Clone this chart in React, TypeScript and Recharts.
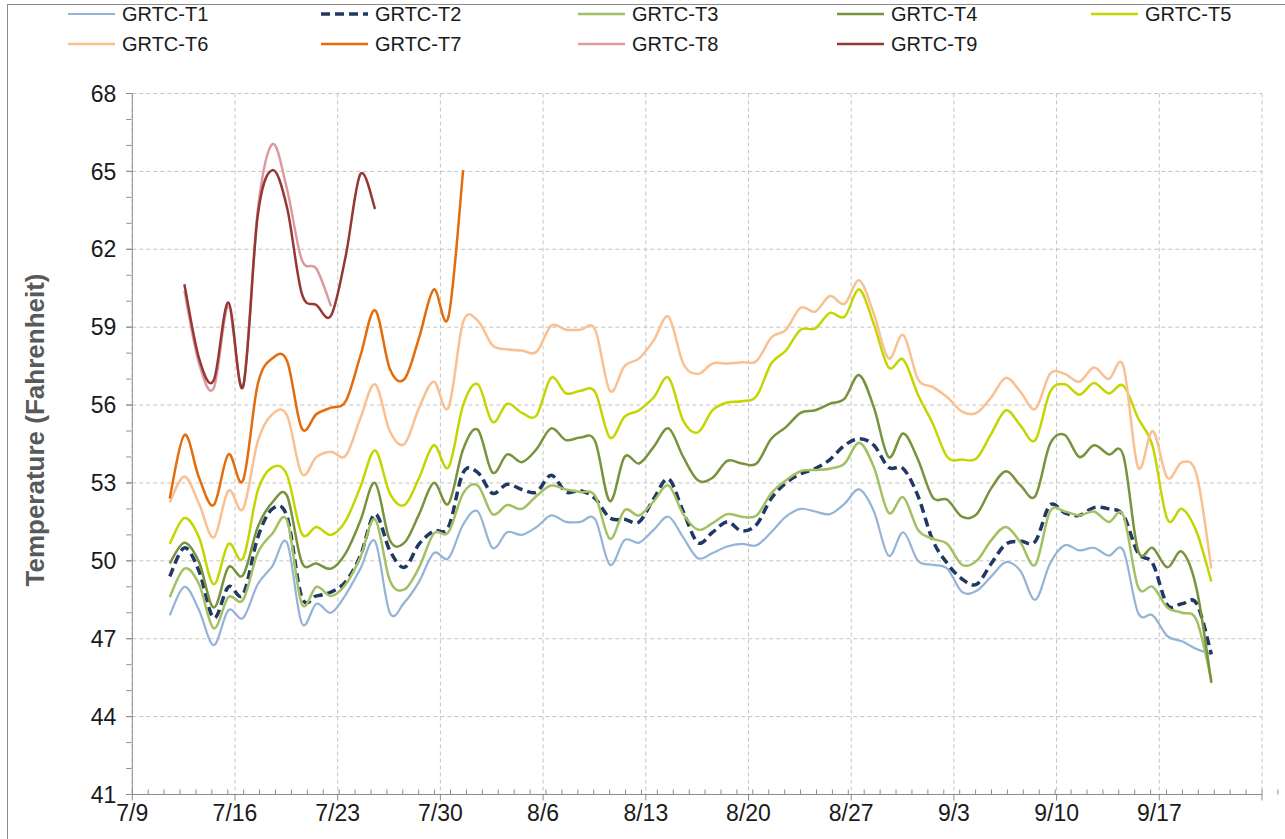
import React from "react";
import { LineChart, Line, XAxis, YAxis, CartesianGrid } from "recharts";

// day offsets from 7/9 (one reading per day, 7/11 .. 9/20)
const days = [
  2, 3, 4, 5, 6, 7, 8, 9, 10, 11, 12, 13, 14, 15, 16, 17, 18, 19, 20, 21,
  22, 23, 24, 25, 26, 27, 28, 29, 30, 31, 32, 33, 34, 35, 36, 37, 38, 39, 40, 41,
  42, 43, 44, 45, 46, 47, 48, 49, 50, 51, 52, 53, 54, 55, 56, 57, 58, 59, 60, 61,
  62, 63, 64, 65, 66, 67, 68, 69, 70, 71, 72, 73,
];

const weekTicks = [0, 7, 14, 21, 28, 35, 42, 49, 56, 63, 70, 77];
const weekLabels = ["7/9", "7/16", "7/23", "7/30", "8/6", "8/13", "8/20", "8/27", "9/3", "9/10", "9/17", ""];
const dayTicks = [
  0, 1, 2, 3, 4, 5, 6, 7, 8, 9, 10, 11, 12, 13, 14, 15, 16, 17, 18, 19, 20, 21, 22, 23, 24, 25,
  26, 27, 28, 29, 30, 31, 32, 33, 34, 35, 36, 37, 38, 39, 40, 41, 42, 43, 44, 45, 46, 47, 48, 49, 50, 51,
  52, 53, 54, 55, 56, 57, 58, 59, 60, 61, 62, 63, 64, 65, 66, 67, 68, 69, 70, 71, 72, 73, 74, 75, 76, 77,
];
const tempTicks = [41, 44, 47, 50, 53, 56, 59, 62, 65, 68];
const tempMinor = [
  41, 42, 43, 44, 45, 46, 47, 48, 49, 50, 51, 52, 53, 54, 55, 56, 57, 58, 59, 60, 61, 62, 63, 64, 65, 66, 67, 68,
];

const t1 = [
  47.9, 49.0, 48.1, 46.75, 48.1, 47.8, 49.1, 49.8, 50.7, 47.6,
  48.35, 48.0, 48.7, 49.7, 50.75, 48.0, 48.4, 49.2, 50.3, 50.1,
  51.4, 51.9, 50.5, 51.1, 51.0, 51.3, 51.75, 51.5, 51.5, 51.6,
  49.85, 50.8, 50.7, 51.2, 51.7, 50.9, 50.1, 50.3, 50.55, 50.65,
  50.6, 51.1, 51.7, 52.0, 51.9, 51.8, 52.2, 52.75, 51.9, 50.2,
  51.1, 50.0, 49.85, 49.7, 48.8, 48.85, 49.4, 49.95, 49.6, 48.5,
  49.9, 50.6, 50.4, 50.5, 50.2, 50.4, 48.0, 47.9, 47.1, 46.9,
  46.6, 46.4,
];
const t2 = [
  49.4, 50.5, 49.6, 47.8, 49.0, 48.7, 50.9, 52.0, 51.7, 48.6,
  48.65, 48.8, 49.2, 50.2, 51.8, 50.4, 49.75, 50.65, 51.15, 51.3,
  53.4, 53.4, 52.6, 52.95, 52.75, 52.65, 53.3, 52.65, 52.7, 52.4,
  51.65, 51.6, 51.5, 52.4, 53.15, 51.9, 50.7, 51.1, 51.5, 51.15,
  51.4, 52.4, 53.0, 53.35, 53.55, 53.9, 54.45, 54.7, 54.45, 53.6,
  53.55, 52.5, 50.8, 49.9, 49.3, 49.1, 49.9, 50.65, 50.75, 50.75,
  52.15, 51.85, 51.75, 52.05, 52.0, 51.75, 50.3, 49.9, 48.3, 48.35,
  48.35, 46.4,
];
const t3 = [
  48.6, 49.7, 49.1, 47.4, 48.6, 48.5, 50.3, 51.05, 51.55, 48.35,
  49.0, 48.65, 49.1, 50.15, 51.6, 49.25, 48.9, 49.75, 51.05, 51.1,
  52.6, 52.9, 51.8, 52.15, 52.0, 52.5, 52.9, 52.75, 52.65, 52.5,
  50.85, 51.95, 51.75, 52.3, 52.9, 51.8, 51.2, 51.45, 51.8, 51.7,
  51.75, 52.6, 53.1, 53.45, 53.5, 53.55, 53.75, 54.55, 53.6, 51.85,
  52.45, 51.2, 50.85, 50.65, 49.85, 50.0, 50.8, 51.3, 50.7, 49.85,
  51.9, 51.9, 51.75, 51.9, 51.5, 51.75, 49.0, 49.0, 48.2, 48.0,
  47.7, 45.4,
];
const t4 = [
  49.9, 50.7, 49.95, 48.2, 49.75, 49.45, 51.3, 52.25, 52.5, 49.95,
  49.9, 49.7, 50.3, 51.55, 53.0, 50.8, 50.7, 51.8, 53.0, 52.2,
  54.3, 55.05, 53.4, 54.1, 53.8, 54.3, 55.1, 54.65, 54.75, 54.6,
  52.3, 54.0, 53.75, 54.4, 55.1, 54.0, 53.1, 53.2, 53.85, 53.75,
  53.75, 54.7, 55.15, 55.7, 55.8, 56.05, 56.25, 57.15, 55.9, 54.0,
  54.9, 53.9, 52.45, 52.35, 51.7, 51.8, 52.8, 53.45, 52.9, 52.5,
  54.5, 54.85, 54.0, 54.45, 54.1, 54.05, 50.4, 50.5, 49.75, 50.35,
  48.9, 45.3,
];
const t5 = [
  50.65, 51.65, 50.9, 49.1, 50.65, 50.1, 52.7, 53.6, 53.3, 51.05,
  51.3, 51.0, 51.55, 52.85, 54.25, 52.6, 52.15, 53.2, 54.45, 53.6,
  56.0, 56.8, 55.35, 56.05, 55.7, 55.6, 57.05, 56.45, 56.55, 56.5,
  54.75, 55.55, 55.8, 56.3, 57.05, 55.4, 54.95, 55.8, 56.1, 56.15,
  56.35, 57.6, 58.1, 58.9, 58.95, 59.55, 59.4, 60.45, 59.1, 57.45,
  57.75, 56.4, 55.3, 54.0, 53.9, 53.95, 54.9, 55.8, 55.2, 54.65,
  56.5, 56.8, 56.4, 56.85, 56.45, 56.75, 55.5, 54.4, 51.6, 52.0,
  51.1, 49.2,
];
const t6 = [
  52.25, 53.25, 52.2, 50.9, 52.7, 52.0, 54.6, 55.65, 55.6, 53.35,
  54.0, 54.2, 54.05, 55.5, 56.8, 55.0, 54.5, 55.9, 56.9, 55.9,
  59.2, 59.25, 58.3, 58.15, 58.1, 58.05, 59.05, 58.9, 58.9, 58.9,
  56.55, 57.5, 57.8, 58.5, 59.4, 57.6, 57.2, 57.6, 57.6, 57.65,
  57.7, 58.6, 58.9, 59.75, 59.6, 60.2, 59.9, 60.8, 59.5, 57.8,
  58.7, 57.0, 56.7, 56.3, 55.75, 55.7, 56.3, 57.05, 56.5, 55.85,
  57.2, 57.2, 56.9, 57.45, 57.0, 57.5, 53.6, 55.0, 53.2, 53.8,
  53.3, 49.7,
];
const t7 = [
  52.4, 54.85, 53.2, 52.15, 54.1, 53.1, 56.8, 57.8, 57.7, 55.1,
  55.65, 55.9, 56.15, 57.9, 59.65, 57.4, 57.0, 58.6, 60.45, 59.4,
  65.05,
];
const t8 = [null, 60.4, 57.6, 56.65, 59.8, 56.75, 63.5, 66.05, 64.3, 61.6, 61.25, 59.8];
const t9 = [null, 60.65, 57.8, 56.95, 59.95, 56.7, 63.3, 65.05, 63.6, 60.3, 59.85, 59.45, 61.75, 64.9, 63.55];

const seriesNames = ["GRTC-T1", "GRTC-T2", "GRTC-T3", "GRTC-T4", "GRTC-T5", "GRTC-T6", "GRTC-T7", "GRTC-T8", "GRTC-T9"];
const seriesValues = [t1, t2, t3, t4, t5, t6, t7, t8, t9];

const styles = [
  { color: "#95B3D7", width: 2.2 },
  { color: "#1F3864", width: 3.5, dash: "9 5" },
  { color: "#A3C063", width: 2.5 },
  { color: "#77933C", width: 2.5 },
  { color: "#C4D600", width: 2.5 },
  { color: "#FAC090", width: 2.5 },
  { color: "#E46C0A", width: 2.5 },
  { color: "#DE9AA0", width: 2.5 },
  { color: "#953735", width: 2.5 },
];

const rows = days.map((d, i) => {
  const row: Record<string, number | null> = { x: d + 0.55 };
  seriesNames.forEach((name, s) => {
    const v = seriesValues[s][i];
    row[name] = v === undefined ? null : v;
  });
  return row;
});

// Excel-like smoothed line (Catmull-Rom as bezier)
function excelSmooth(context: any) {
  let pts: number[][] = [];
  return {
    areaStart() {},
    areaEnd() {},
    lineStart() {
      pts = [];
    },
    lineEnd() {
      const n = pts.length;
      if (!n) return;
      context.moveTo(pts[0][0], pts[0][1]);
      for (let i = 0; i < n - 1; i++) {
        const p0 = pts[i - 1] || pts[i];
        const p1 = pts[i];
        const p2 = pts[i + 1];
        const p3 = pts[i + 2] || p2;
        context.bezierCurveTo(
          p1[0] + (p2[0] - p0[0]) / 6,
          p1[1] + (p2[1] - p0[1]) / 6,
          p2[0] - (p3[0] - p1[0]) / 6,
          p2[1] - (p3[1] - p1[1]) / 6,
          p2[0],
          p2[1]
        );
      }
    },
    point(x: number, y: number) {
      pts.push([+x, +y]);
    },
  };
}

const EmptyTick = () => <g />;

const font = "'Liberation Sans', Arial, sans-serif";
const legendCols = [68, 321, 578, 837, 1091];
const legendRows = [14, 44];

export default function App() {
  return (
    <div style={{ position: "relative", width: 1285, height: 839, overflow: "hidden", background: "#fff", fontFamily: font }}>
      <style>{"body{margin:0;overflow:hidden;background:#fff}"}</style>
      <div style={{ position: "absolute", left: 7, top: 4, width: 1300, height: 860, border: "1px solid #8c8c8c" }} />

      {seriesNames.map((name, i) => {
        const left = legendCols[i % 5];
        const top = legendRows[Math.floor(i / 5)];
        const st = styles[i];
        return (
          <div key={name} style={{ position: "absolute", left, top: top - 12, height: 24, display: "flex", alignItems: "center" }}>
            <svg width={47} height={10}>
              <line x1={0} y1={5} x2={47} y2={5} stroke={st.color} strokeWidth={st.width} strokeDasharray={st.dash} />
            </svg>
            <span style={{ marginLeft: 7, fontSize: 20, color: "#1a1a1a" }}>{name}</span>
          </div>
        );
      })}

      <div
        style={{
          position: "absolute",
          left: 35,
          top: 430,
          transform: "translate(-50%, -50%) rotate(-90deg)",
          whiteSpace: "nowrap",
          fontSize: 26,
          fontWeight: "bold",
          color: "#595959",
        }}
      >
        Temperature (Fahrenheit)
      </div>

      <div style={{ position: "absolute", left: 0, top: 0 }}>
        <LineChart width={1285} height={839} data={rows} margin={{ top: 93.5, right: 23, bottom: 43.5, left: 130.3 }}>
          <CartesianGrid xAxisId="x" yAxisId="y" stroke="#c4c4c4" strokeDasharray="4 3" />
          <XAxis
            xAxisId="x"
            dataKey="x"
            type="number"
            domain={[0, 77]}
            ticks={weekTicks}
            allowDataOverflow
            height={1}
            tickSize={6}
            tickMargin={4}
            tickFormatter={(v: number) => weekLabels[weekTicks.indexOf(v)]}
            tick={{ fontSize: 23, fill: "#1a1a1a", fontFamily: font }}
            stroke="#8c8c8c"
            interval={0}
          />
          <XAxis
            xAxisId="xm"
            type="number"
            domain={[0, 77]}
            ticks={dayTicks}
            allowDataOverflow
            height={1}
            mirror
            tickSize={5}
            tick={EmptyTick}
            axisLine={false}
            stroke="#8c8c8c"
            interval={0}
          />
          <YAxis
            yAxisId="y"
            type="number"
            domain={[41, 68]}
            ticks={tempTicks}
            allowDataOverflow
            width={1}
            tickSize={6}
            tickMargin={10}
            tick={{ fontSize: 23, fill: "#1a1a1a", fontFamily: font }}
            stroke="#8c8c8c"
            interval={0}
          />
          <YAxis
            yAxisId="ym"
            type="number"
            domain={[41, 68]}
            ticks={tempMinor}
            allowDataOverflow
            width={1}
            tickSize={5}
            tick={EmptyTick}
            axisLine={false}
            stroke="#8c8c8c"
            interval={0}
          />
          {seriesNames.map((name, i) => (
            <Line
              key={name}
              xAxisId="x"
              yAxisId="y"
              dataKey={name}
              type={excelSmooth as any}
              stroke={styles[i].color}
              strokeWidth={styles[i].width}
              strokeDasharray={styles[i].dash}
              dot={false}
              activeDot={false}
              isAnimationActive={false}
            />
          ))}
        </LineChart>
      </div>
    </div>
  );
}
